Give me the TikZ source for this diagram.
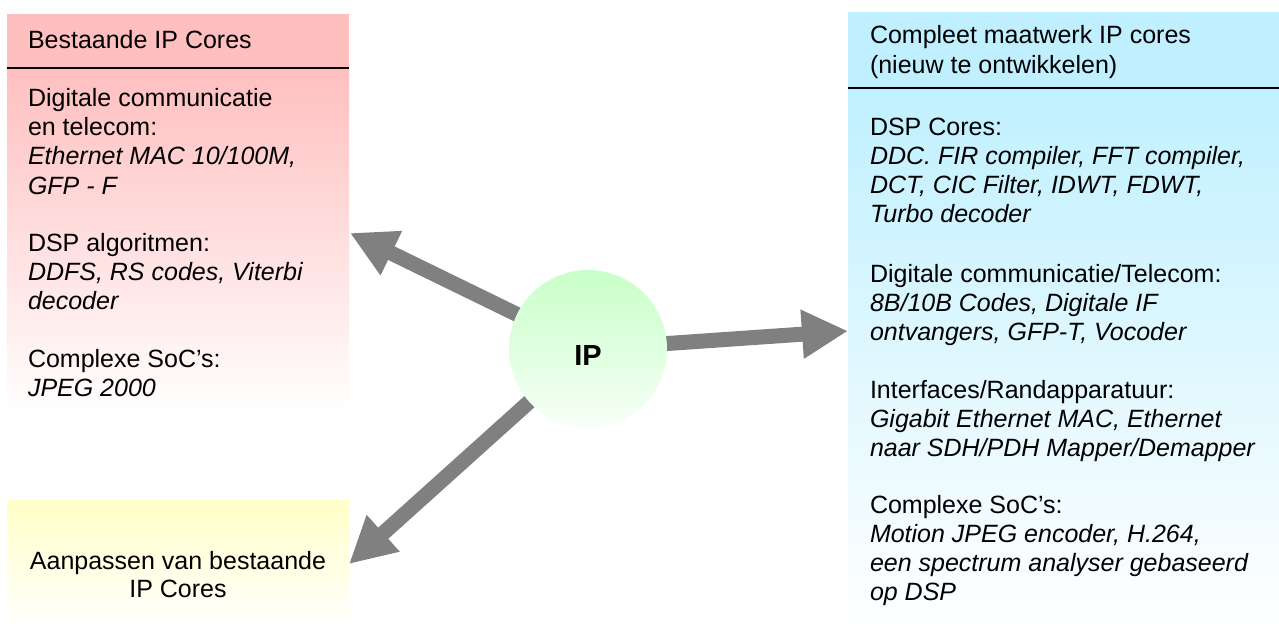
\documentclass[tikz,border=0pt]{standalone}
\usepackage{fontspec}
\setmainfont{Liberation Sans}
\usetikzlibrary{arrows.meta}
\definecolor{pinkhead}{RGB}{255,191,191}
\definecolor{cyanhead}{RGB}{192,240,255}
\definecolor{yellowtop}{RGB}{255,255,200}
\definecolor{greentop}{RGB}{200,255,200}
\definecolor{greenbot}{RGB}{248,255,248}
\definecolor{arrowgray}{RGB}{128,128,128}
\tikzset{
  boxbg/.style={rectangle, draw=none, inner sep=0, outer sep=0, anchor=north west},
  txt/.style={anchor=base west, inner sep=0, outer sep=0, align=left,
              font=\fontsize{25}{29.3}\selectfont},
  bigarrow/.style={draw=arrowgray, line width=15pt,
              -{Triangle[length=46pt,width=46pt]}, arrowgray},
  sepline/.style={line width=1.2pt, black}
}
\begin{document}
\begin{tikzpicture}[x=1pt,y=-1pt]
\useasboundingbox[fill=white] (0,0) rectangle (1279,630);
% left pink box
\node[boxbg, fill=pinkhead, minimum width=342, minimum height=54] (lhead) at (7,14) {};
\node[boxbg, top color=pinkhead, bottom color=white, minimum width=342, minimum height=347] (lbody) at (7,68) {};
\draw[sepline] (lhead.south west) -- (lhead.south east);
\node[txt] (lt) at (28,48) {Bestaande IP Cores};
% anchors below are at the baseline of each paragraph's last line
\node[txt] (l1) at (28,194) {Digitale communicatie\\en telecom:\\\textit{Ethernet MAC 10/100M,}\\\textit{GFP - F}};
\node[txt] (l2) at (28,309.6) {DSP algoritmen:\\\textit{DDFS, RS codes, Viterbi}\\\textit{decoder}};
\node[txt] (l3) at (28,396.3) {Complexe SoC’s:\\\textit{JPEG 2000}};
% yellow box
\node[boxbg, top color=yellowtop, bottom color=white, minimum width=342, minimum height=128] (ybox) at (7,500) {};
\node[txt, anchor=base, align=center, font=\fontsize{25}{28}\selectfont] (yt) at (178,597) {Aanpassen van bestaande\\IP Cores};
% right cyan box
\node[boxbg, fill=cyanhead, minimum width=431, minimum height=76] (rhead) at (848,12) {};
\node[boxbg, top color=cyanhead, bottom color=white, minimum width=431, minimum height=542] (rbody) at (848,88) {};
\draw[sepline] (rhead.south west) -- (rhead.south east);
\node[txt, font=\fontsize{25}{30}\selectfont] (rt) at (870,73) {Compleet maatwerk IP cores\\(nieuw te ontwikkelen)};
\node[txt] (r1) at (870,222.9) {DSP Cores:\\\textit{DDC. FIR compiler, FFT compiler,}\\\textit{DCT, CIC Filter, IDWT, FDWT,}\\\textit{Turbo decoder}};
\node[txt] (r2) at (870,340.6) {Digitale communicatie/Telecom:\\\textit{8B/10B Codes, Digitale IF}\\\textit{ontvangers, GFP-T, Vocoder}};
\node[txt] (r3) at (870,456.6) {Interfaces/Randapparatuur:\\\textit{Gigabit Ethernet MAC, Ethernet}\\\textit{naar SDH/PDH Mapper/Demapper}};
\node[txt] (r4) at (870,600.9) {Complexe SoC’s:\\\textit{Motion JPEG encoder, H.264,}\\\textit{een spectrum analyser gebaseerd}\\\textit{op DSP}};
% arrows
\coordinate (ipc) at (588,349);
\coordinate (tipL) at (350,233);
\coordinate (tipR) at (848,331);
\coordinate (tipB) at (349,564);
\draw[bigarrow] (ipc) -- (tipL);
\draw[bigarrow] (ipc) -- (tipR);
\draw[bigarrow] (ipc) -- (tipB);
% IP circle
\node[circle, draw=none, top color=greentop, bottom color=greenbot, minimum size=158, inner sep=0,
      text height=32pt, text depth=0pt,
      font=\fontsize{29}{30}\bfseries\selectfont] (ip) at (ipc) {IP};
\end{tikzpicture}
\end{document}
